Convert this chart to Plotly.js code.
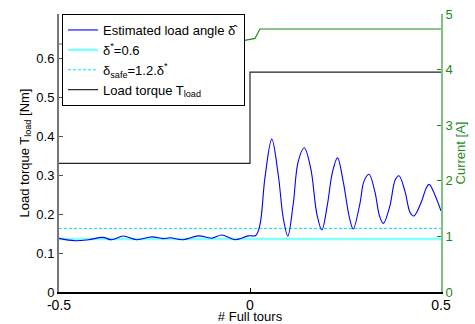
<!DOCTYPE html>
<html><head><meta charset="utf-8">
<script src="https://cdn.plot.ly/plotly-3.0.1.min.js"></script>
<style>html,body{margin:0;padding:0;background:#fff}#chart{width:475px;height:324px}</style>
</head><body><div id="chart"></div>
<script>
// Estimated load angle (plotted on left axis scale)
const angleT = [-0.5,-0.458,-0.423,-0.385,-0.362,-0.332,-0.297,-0.257,-0.227,-0.209,-0.175,-0.135,-0.100,-0.074,-0.039,-0.004,
  0.015,0.026,0.039,0.057,0.074,0.087,0.099,0.113,0.126,0.142,0.159,0.175,0.188,0.202,0.216,0.229,0.244,0.260,0.270,
  0.288,0.298,0.3115,0.327,0.339,0.349,0.366,0.380,0.390,0.406,0.419,0.429,0.449,0.461,0.469,0.484,0.500];
const angleV = [0.1376,0.1316,0.134,0.140,0.134,0.1436,0.134,0.1414,0.137,0.139,0.134,0.144,0.138,0.146,0.134,0.144,
  0.145,0.172,0.292,0.392,0.300,0.190,0.1436,0.225,0.334,0.370,0.317,0.200,0.159,0.220,0.308,0.344,0.283,0.192,0.1615,
  0.228,0.283,0.302,0.257,0.195,0.176,0.220,0.287,0.298,0.257,0.204,0.195,0.232,0.266,0.276,0.249,0.208];
// Reference angle lines
const refT = [-0.5, 0.5];
const deltaStar = [0.136, 0.136];
const deltaSafe = [0.163, 0.163];
// Load torque step
const torqueT = [-0.5, 0, 0, 0.5];
const torqueV = [0.33, 0.33, 0.564, 0.564];
// Current (right axis)
const currentT = [-0.5, -0.034, 0.013, 0.022, 0.026, 0.5];
const currentV = [4.46, 4.50, 4.56, 4.68, 4.73, 4.73];
// Ticks
const xTicks = [-0.5, 0, 0.5];
const yTicks = [0, 0.1, 0.2, 0.3, 0.4, 0.5, 0.6];
const y2Ticks = [0, 1, 2, 3, 4, 5];

const F = 'Liberation Sans, Arial, sans-serif';
const traces = [
  {x: torqueT, y: torqueV, mode: 'lines', name: 'Load torque T<sub>load</sub>', line: {color: '#222', width: 1.2}, legendrank: 4},
  {x: refT, y: deltaStar, mode: 'lines', name: 'δ<sup>*</sup>=0.6', line: {color: '#80ffff', width: 2.5}, legendrank: 2},
  {x: refT, y: deltaSafe, mode: 'lines', name: 'δ<sub>safe</sub>=1.2.δ<sup>*</sup>', line: {color: '#00e5ff', width: 1, dash: '3px,2px'}, legendrank: 3},
  {x: angleT, y: angleV, mode: 'lines', name: 'Estimated load angle δ̂', line: {color: '#0000ff', width: 1.1, shape: 'spline', smoothing: 1}, legendrank: 1},
  {x: currentT, y: currentV, yaxis: 'y2', mode: 'lines', line: {color: '#1a8a1a', width: 1.2}, showlegend: false, hoverinfo: 'skip'}
];
const layout = {
  width: 475, height: 324,
  margin: {l: 59, r: 34, t: 14, b: 32},
  paper_bgcolor: '#fff', plot_bgcolor: '#fff',
  font: {family: F, size: 13, color: '#000'},
  showlegend: true,
  legend: {x: 0.008, y: 1, xanchor: 'left', yanchor: 'top', bgcolor: '#fff', bordercolor: '#000', borderwidth: 1,
    font: {family: F, size: 13, color: '#000'}, traceorder: 'normal', itemwidth: 30, tracegroupgap: 0},
  xaxis: {range: [-0.5, 0.5], tickvals: xTicks, ticktext: xTicks.map(String), ticks: 'inside', ticklen: 4, tickcolor: '#000',
    showline: true, linecolor: '#000', linewidth: 1.5, showgrid: false, zeroline: false,
    tickfont: {family: F, size: 14, color: '#000'},
    title: {text: '# Full tours', font: {family: F, size: 13, color: '#000'}, standoff: 0}},
  yaxis: {range: [0, 0.713], tickvals: yTicks, ticktext: yTicks.map(String), ticks: 'inside', ticklen: 4, tickcolor: '#555',
    showline: true, linecolor: '#777', linewidth: 2, showgrid: false, zeroline: false,
    tickfont: {family: F, size: 13, color: '#000'},
    title: {text: 'Load torque T<sub>load</sub> [Nm]', font: {family: F, size: 13, color: '#000'}, standoff: 4}},
  yaxis2: {range: [0, 5], overlaying: 'y', side: 'right', anchor: 'x', tickvals: y2Ticks, ticktext: y2Ticks.map(String),
    ticks: 'inside', ticklen: 4, tickcolor: '#1a8a1a', showline: true, linecolor: '#80c080', linewidth: 2,
    showgrid: false, zeroline: false, tickfont: {family: F, size: 13, color: '#1a8a1a'},
    title: {text: 'Current [A]', font: {family: F, size: 13, color: '#1a8a1a'}, standoff: 4}}
};
Plotly.newPlot('chart', traces, layout, {displayModeBar: false, staticPlot: true});
</script></body></html>
